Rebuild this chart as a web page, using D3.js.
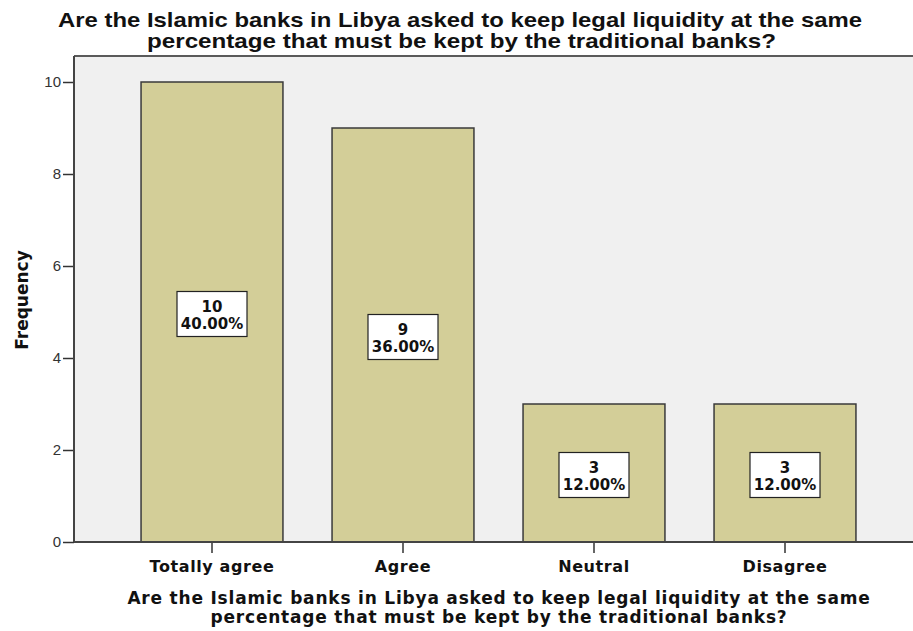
<!DOCTYPE html>
<html>
<head>
<meta charset="utf-8">
<script src="https://cdn.jsdelivr.net/npm/d3@7"></script>
<style>
  html, body { margin: 0; padding: 0; background: #ffffff; }
  svg { display: block; }
</style>
</head>
<body>
<svg id="chart" width="913" height="631"></svg>
<script>
// Survey responses and their frequencies
const categories = ["Totally agree", "Agree", "Neutral", "Disagree"];
const counts = [10, 9, 3, 3];
const percents = ["40.00%", "36.00%", "12.00%", "12.00%"];
const yTicks = [0, 2, 4, 6, 8, 10];
const titleLines = [
  "Are the Islamic banks in Libya asked to keep legal liquidity at the same",
  "percentage that must be kept by the traditional banks?"
];
const yAxisTitle = "Frequency";

const svg = d3.select("#chart");
const plot = { left: 74, top: 56, right: 913, bottom: 542 };

const x = d3.scaleBand()
  .domain(categories)
  .range([116.5, 880.5])
  .paddingInner(0.257)
  .paddingOuter(0.1285);

const y = d3.scaleLinear()
  .domain([0, 10])
  .range([plot.bottom, 82]);

// Plot background
svg.append("rect")
  .attr("x", plot.left).attr("y", plot.top)
  .attr("width", plot.right - plot.left).attr("height", plot.bottom - plot.top)
  .attr("fill", "#f0f0f0");

// Frame: top border
svg.append("line")
  .attr("x1", plot.left).attr("x2", plot.right)
  .attr("y1", plot.top).attr("y2", plot.top)
  .attr("stroke", "#5a5a5a").attr("stroke-width", 2);

// Bars
svg.append("g").selectAll("rect")
  .data(categories)
  .join("rect")
  .attr("x", d => x(d))
  .attr("y", (d, i) => y(counts[i]))
  .attr("width", x.bandwidth())
  .attr("height", (d, i) => y(0) - y(counts[i]))
  .attr("fill", "#d3ce98")
  .attr("stroke", "#3a3a3a")
  .attr("stroke-width", 1.5);

// Y axis
const yAxis = d3.axisLeft(y).tickValues(yTicks).tickSize(11).tickPadding(2).tickSizeOuter(0);
const gy = svg.append("g").attr("transform", `translate(${plot.left},0)`).call(yAxis);
gy.select(".domain").remove();
gy.selectAll(".tick line").attr("stroke", "#333").attr("stroke-width", 1.5);
gy.selectAll(".tick text")
  .attr("font-family", "'Liberation Sans', Arial, sans-serif")
  .attr("font-size", 15)
  .attr("fill", "#333");
svg.append("line")
  .attr("x1", plot.left).attr("x2", plot.left)
  .attr("y1", plot.top).attr("y2", plot.bottom)
  .attr("stroke", "#444").attr("stroke-width", 2);

// X axis
const xAxis = d3.axisBottom(x).tickSize(11).tickPadding(8).tickSizeOuter(0);
const gx = svg.append("g").attr("transform", `translate(0,${plot.bottom})`).call(xAxis);
gx.select(".domain").remove();
gx.selectAll(".tick line").attr("stroke", "#333").attr("stroke-width", 1.5);
gx.selectAll(".tick text")
  .attr("font-family", "'DejaVu Sans', Verdana, sans-serif")
  .attr("font-weight", "bold")
  .attr("font-size", 16)
  .attr("letter-spacing", "0.6px")
  .attr("fill", "#111");
svg.append("line")
  .attr("x1", plot.left).attr("x2", plot.right)
  .attr("y1", plot.bottom).attr("y2", plot.bottom)
  .attr("stroke", "#444").attr("stroke-width", 2);

// Value labels inside bars
const lab = svg.append("g").selectAll("g")
  .data(categories)
  .join("g")
  .attr("transform", (d, i) => `translate(${x(d) + x.bandwidth() / 2},${y(counts[i] / 2) + 2})`);
lab.append("rect")
  .attr("x", -35).attr("y", -22.5)
  .attr("width", 70).attr("height", 45)
  .attr("fill", "#ffffff")
  .attr("stroke", "#222")
  .attr("stroke-width", 1.2);
lab.append("text")
  .attr("y", -2.5)
  .attr("text-anchor", "middle")
  .attr("font-family", "'DejaVu Sans', Verdana, sans-serif")
  .attr("font-weight", "bold")
  .attr("font-size", 15)
  .attr("fill", "#111")
  .text((d, i) => counts[i]);
lab.append("text")
  .attr("y", 14.5)
  .attr("text-anchor", "middle")
  .attr("font-family", "'DejaVu Sans', Verdana, sans-serif")
  .attr("font-weight", "bold")
  .attr("font-size", 15)
  .attr("fill", "#111")
  .text((d, i) => percents[i]);

// Chart title (stretched horizontally to the title's set line widths)
const titleWidths = [804, 629];
svg.append("text")
  .attr("text-anchor", "middle")
  .attr("font-family", "'Liberation Sans', Arial, sans-serif")
  .attr("font-weight", "bold")
  .attr("font-size", 21)
  .attr("fill", "#111")
  .selectAll("tspan")
  .data(titleLines)
  .join("tspan")
  .attr("x", (d, i) => i === 0 ? 460 : 461.5)
  .attr("y", (d, i) => 26.5 + i * 21)
  .attr("textLength", (d, i) => titleWidths[i])
  .attr("lengthAdjust", "spacingAndGlyphs")
  .text(d => d);

// X axis title
svg.append("text")
  .attr("text-anchor", "middle")
  .attr("font-family", "'DejaVu Sans', Verdana, sans-serif")
  .attr("font-weight", "bold")
  .attr("font-size", 17)
  .attr("letter-spacing", "0.8px")
  .attr("fill", "#111")
  .selectAll("tspan")
  .data(titleLines)
  .join("tspan")
  .attr("x", 499)
  .attr("y", (d, i) => 603.5 + i * 19.5)
  .text(d => d);

// Y axis title
svg.append("text")
  .attr("transform", "translate(27.5,300) rotate(-90)")
  .attr("text-anchor", "middle")
  .attr("font-family", "'DejaVu Sans', Verdana, sans-serif")
  .attr("font-weight", "bold")
  .attr("font-size", 17)
  .attr("fill", "#111")
  .text(yAxisTitle);
</script>
</body>
</html>
